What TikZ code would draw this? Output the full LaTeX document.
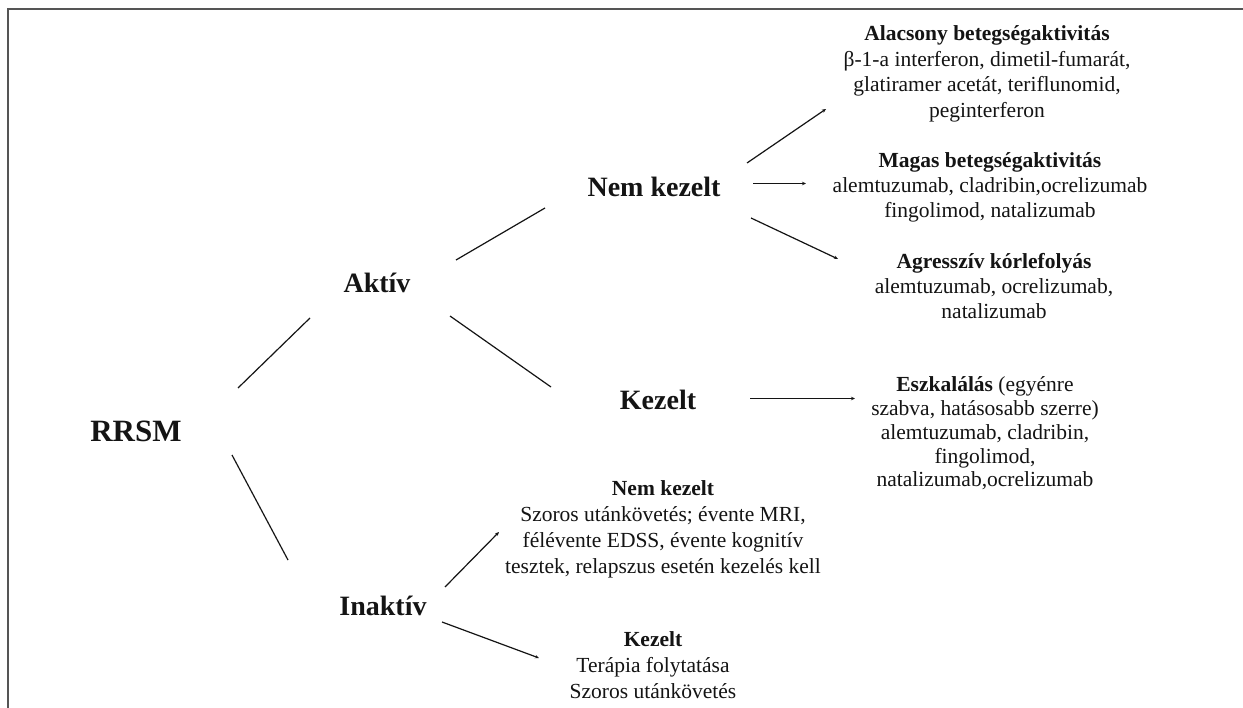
\documentclass[tikz,border=0pt]{standalone}
\usepackage{fontspec}
\setmainfont{Liberation Serif}
\usetikzlibrary{arrows.meta}
\definecolor{ink}{HTML}{141414}
\definecolor{frame}{HTML}{555555}
\tikzset{
  lvl/.style={anchor=base, inner sep=0pt, text=ink, font=\fontsize{28}{32}\selectfont\bfseries},
  root/.style={anchor=base, inner sep=0pt, text=ink, font=\fontsize{31}{36}\selectfont\bfseries},
  info/.style={anchor=base, inner sep=0pt, text=ink, align=center, font=\fontsize{21.5}{25.5}\selectfont},
  conn/.style={draw=ink, line width=1.2pt},
  conna/.style={conn, -{Stealth[length=4pt,width=3.5pt]}},
  edge/.style={draw=frame, line width=2pt}
}
\begin{document}
\begin{tikzpicture}[x=1pt,y=-1pt]
\useasboundingbox (0,0) rectangle (1243,708);
\fill[white] (0,0) rectangle (1243,708);
\draw[edge] (8,708) -- (8,9.5) -- (1243,9.5);

% main nodes
\node[root] (rrsm) at (136,442) {RRSM};
\node[lvl] (aktiv) at (377,293) {Aktív};
\node[lvl] (inaktiv) at (383,615) {Inaktív};
\node[lvl] (nemkez) at (654,197) {Nem kezelt};
\node[lvl] (kez) at (658,410) {Kezelt};

% info blocks (anchor = baseline of the last line)
\node[info] (alacsony) at (987,117.5) {\textbf{Alacsony betegségaktivitás}\\β-1-a interferon, dimetil-fumarát,\\glatiramer acetát, teriflunomid,\\peginterferon};
\node[info, font=\fontsize{21.5}{25}\selectfont] (magas) at (990,218) {\textbf{Magas betegségaktivitás}\\alemtuzumab, cladribin,ocrelizumab\\fingolimod, natalizumab};
\node[info, font=\fontsize{21.5}{25}\selectfont] (agressziv) at (994,319) {\textbf{Agresszív kórlefolyás}\\alemtuzumab, ocrelizumab,\\natalizumab};
\node[info, font=\fontsize{21.5}{23.8}\selectfont] (eszk) at (985,487) {\textbf{Eszkalálás} (egyénre\\szabva, hatásosabb szerre)\\alemtuzumab, cladribin,\\fingolimod,\\natalizumab,ocrelizumab};
\node[info, font=\fontsize{21.5}{26}\selectfont] (inem) at (663,573) {\textbf{Nem kezelt}\\Szoros utánkövetés; évente MRI,\\félévente EDSS, évente kognitív\\tesztek, relapszus esetén kezelés kell};
\node[info, font=\fontsize{21.5}{26}\selectfont] (ikez) at (653,698) {\textbf{Kezelt}\\Terápia folytatása\\Szoros utánkövetés};

% connector end points
\coordinate (rrsm-up) at (238,388);
\coordinate (aktiv-in) at (310,318);
\coordinate (rrsm-dn) at (232,455);
\coordinate (inaktiv-in) at (288,560);
\coordinate (aktiv-up) at (456,260);
\coordinate (nemkez-in) at (545,208);
\coordinate (aktiv-dn) at (450,316);
\coordinate (kez-in) at (551,387);
\coordinate (nemkez-up) at (747,163);
\coordinate (alacsony-in) at (826,109);
\coordinate (nemkez-mid) at (753,183.5);
\coordinate (magas-in) at (806,183.5);
\coordinate (nemkez-dn) at (751,218);
\coordinate (agressziv-in) at (838,259);
\coordinate (kez-out) at (750,398.5);
\coordinate (eszk-in) at (855,398.5);
\coordinate (inaktiv-up) at (445,587);
\coordinate (inem-in) at (499,532);
\coordinate (inaktiv-dn) at (442,622);
\coordinate (ikez-in) at (539,658);

% connectors
\draw[conn] (rrsm-up) -- (aktiv-in);
\draw[conn] (rrsm-dn) -- (inaktiv-in);
\draw[conn] (aktiv-up) -- (nemkez-in);
\draw[conn] (aktiv-dn) -- (kez-in);
\draw[conna] (nemkez-up) -- (alacsony-in);
\draw[conna] (nemkez-mid) -- (magas-in);
\draw[conna] (nemkez-dn) -- (agressziv-in);
\draw[conna] (kez-out) -- (eszk-in);
\draw[conna] (inaktiv-up) -- (inem-in);
\draw[conna] (inaktiv-dn) -- (ikez-in);
\end{tikzpicture}
\end{document}
